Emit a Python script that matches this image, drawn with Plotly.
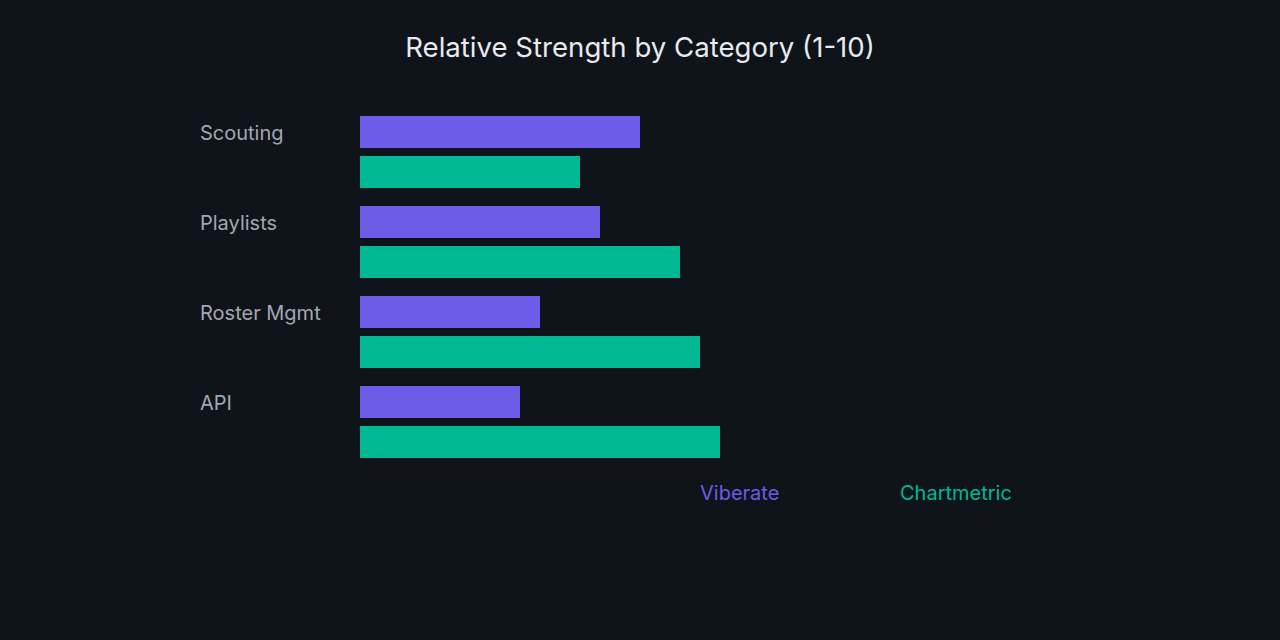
import plotly.graph_objects as go

categories = ["Scouting", "Playlists", "Roster Mgmt", "API"]
viberate = [7, 6, 4.5, 4]
chartmetric = [5.5, 8, 8.5, 9]
series_names = ["Viberate", "Chartmetric"]
colors = ["#6c5ce7", "#00b894"]

bar_w = 32 / 90
gap = 8 / 90

fig = go.Figure()
fig.add_trace(go.Bar(y=categories, x=viberate, orientation="h", name=series_names[0],
                     width=bar_w, offset=-0.4,
                     marker=dict(color=colors[0], line=dict(width=0)), hoverinfo="x+y"))
fig.add_trace(go.Bar(y=categories, x=chartmetric, orientation="h", name=series_names[1],
                     width=bar_w, offset=-0.4 + bar_w + gap,
                     marker=dict(color=colors[1], line=dict(width=0)), hoverinfo="x+y"))

W, H = 1280, 640
L, R, T, B = 360, 760, 107, 467

annotations = []
for i, c in enumerate(categories):
    pix = 133 + 90 * i
    annotations.append(dict(text=c, x=(198 - L) / (R - L), y=(B - pix) / (B - T),
                            xref="paper", yref="paper", xanchor="left", yanchor="middle",
                            showarrow=False, font=dict(family="Inter", size=20, color="#a3a8b0")))
for name, col, px in zip(series_names, colors, [698, 898]):
    annotations.append(dict(text=name, x=(px - L) / (R - L), y=(B - 493) / (B - T),
                            xref="paper", yref="paper", xanchor="left", yanchor="middle",
                            showarrow=False, font=dict(family="Inter", size=20, color=col)))

fig.update_layout(
    width=W, height=H,
    paper_bgcolor="#0f131a", plot_bgcolor="#0f131a",
    margin=dict(l=L, r=W - R, t=T, b=H - B, pad=0),
    barmode="overlay",
    showlegend=False,
    title=dict(text="Relative Strength by Category (1-10)", x=0.5, xref="container", xanchor="center",
               y=1 - 47 / 640, yref="container", yanchor="middle",
               font=dict(family="Inter", size=27.6, color="#e8eaed")),
    xaxis=dict(range=[0, 10], visible=False, showgrid=False, zeroline=False),
    yaxis=dict(autorange="reversed", visible=False, showgrid=False, zeroline=False),
    annotations=annotations,
)

fig.write_html("out.html", config={"displayModeBar": False},
               post_script="document.body.style.margin='0';document.body.style.background='#0f131a';")
